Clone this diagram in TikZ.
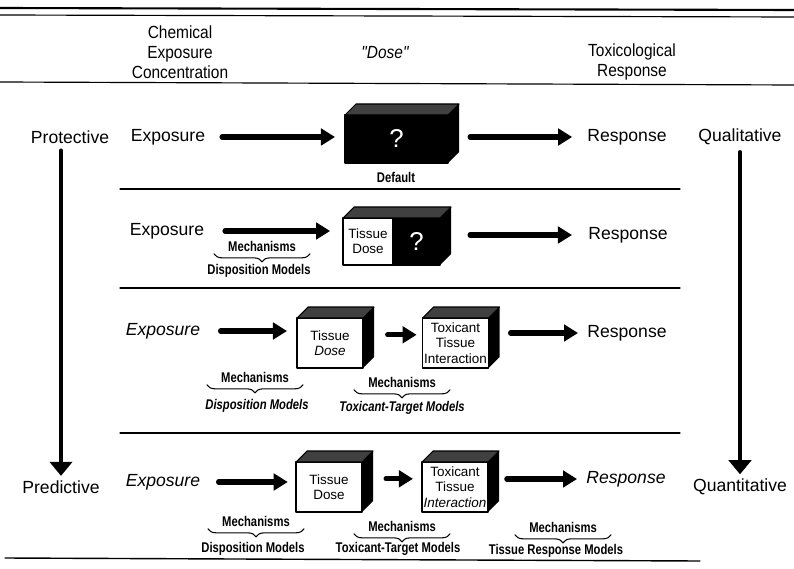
\documentclass[tikz,border=0pt]{standalone}
\usepackage{fontspec}
\setmainfont{Liberation Sans}
\newfontfamily\narrowfont[FakeStretch=0.8]{Liberation Sans}
\newfontfamily\hdrfont[FakeStretch=0.88]{Liberation Sans}
\usetikzlibrary{arrows.meta,decorations.pathreplacing}
\tikzset{
	lbl/.style={inner sep=2pt, outer sep=0pt, font=\fontsize{15}{18}\selectfont},
	lblit/.style={lbl, font=\fontsize{15}{18}\selectfont\itshape},
	hdr/.style={align=center, inner sep=2pt, font=\hdrfont\fontsize{15}{17}\selectfont},
	tiny/.style={inner sep=1pt, font=\narrowfont\fontsize{12}{14}\selectfont\bfseries},
	tinyit/.style={tiny, font=\narrowfont\fontsize{12}{14}\selectfont\bfseries\itshape},
	box/.style={draw, line width=0.9pt, fill=white, align=center, inner sep=1pt, outer sep=0pt,
		minimum width=1.98cm, minimum height=1.5cm, font=\fontsize{11.5}{13}\selectfont},
	blackbox/.style={box, fill=black, text=white, font=\fontsize{22}{24}\selectfont},
	fat/.style={line width=4.3pt, -{Triangle[length=12pt,width=14pt]}},
	down/.style={line width=3.4pt, -{Triangle[length=12pt,width=19pt]}},
	brc/.style={decorate, decoration={brace, mirror, amplitude=7pt}, line width=0.9pt}
}
\begin{document}
\begin{tikzpicture}[x=0.03cm, y=-0.03cm, line cap=round, line join=round]
	\useasboundingbox (0,0) rectangle (794,569);
	\draw[line width=1.8pt] (0,8) -- (794,10);
	\draw[line width=1pt] (0,15) -- (794,17);
	\draw[line width=1pt] (0,82) -- (794,85);
	\foreach \y in {189,288,433}
	\draw[line width=0.9pt] (120,\y) -- (680,\y);
	\draw[line width=1.2pt] (5,558) -- (700,561);

	\node[hdr] (chem) at (180,52) {Chemical\\Exposure\\Concentration};
	\node[hdr, font=\hdrfont\fontsize{15}{17}\selectfont\itshape] (dose) at (385,53) {"Dose"};
	\node[hdr] (tox) at (632,62) {Toxicological\\Response};

	\node[lbl] (prot) at (70,137) {Protective};
	\node[lbl] (pred) at (61,487) {Predictive};
	\node[lbl] (qual) at (740,137) {Qualitative};
	\node[lbl] (quant) at (740,487) {Quantitative};
	\draw[down, shorten <=4pt, shorten >=2pt] (prot.south -| pred.north) -- (pred.north);
	\draw[down, shorten <=4pt, shorten >=2pt] (qual.south) -- (quant.north);

	\node[lbl] (exp1) at (168,137) {Exposure};
	\node[blackbox, minimum width=3.09cm, minimum height=1.44cm] (dflt) at (396.5,139) {?};
	\node[tiny] (dfltlbl) at (396,177) {Default};
	\node[lbl] (resp1) at (627,137) {Response};

	\node[lbl] (exp2) at (167,231) {Exposure};
	\node[box, minimum width=1.5cm, minimum height=1.41cm] (mixL) at (368,241.5) {Tissue\\Dose};
	\node[blackbox, minimum width=1.41cm, minimum height=1.41cm, anchor=west] (mixR) at (mixL.east) {?};
	\node[lbl] (resp2) at (628,235) {Response};
	\node[tiny] (mech2) at (262,246) {Mechanisms};
	\node[tiny] (disp2) at (259,271) {Disposition Models};

	\node[lblit] (exp3) at (163,331) {Exposure};
	\node[box] (tdA) at (330,343) {Tissue\\\textit{Dose}};
	\node[box] (ttA) at (455.5,343) {Toxicant\\Tissue\\Interaction};
	\node[lbl] (resp3) at (627,333) {Response};
	\node[tiny] (mech3a) at (255,377) {Mechanisms};
	\node[tinyit] (disp3) at (257,406) {Disposition Models};
	\node[tiny] (mech3b) at (402,382) {Mechanisms};
	\node[tinyit] (tt3) at (402,408) {Toxicant-Target Models};

	\node[lblit] (exp4) at (163,482) {Exposure};
	\node[box] (tdB) at (329,487) {Tissue\\Dose};
	\node[box] (ttB) at (455,487) {Toxicant\\Tissue\\\textit{Interaction}};
	\node[lblit] (resp4) at (626,479) {Response};
	\node[tiny] (mech4a) at (256,521) {Mechanisms};
	\node[tiny] (disp4) at (253,549) {Disposition Models};
	\node[tiny] (mech4b) at (402,526) {Mechanisms};
	\node[tiny] (tt4) at (398,549) {Toxicant-Target Models};
	\node[tiny] (mech4c) at (563,527) {Mechanisms};
	\node[tiny] (tr4) at (556,551) {Tissue Response Models};

	\foreach \l/\r in {dflt/dflt, mixL/mixR, tdA/tdA, ttA/ttA, tdB/tdB, ttB/ttB}{
		\fill[black] (\r.north east) -- ++(11,-11) -- ([shift={(11,-11)}]\r.south east) -- (\r.south east) -- cycle;
		\filldraw[fill=black!75, line width=0.9pt] (\l.north west) -- ++(11,-11) -- ([shift={(11,-11)}]\r.north east) -- (\r.north east) -- cycle;
	}
	\foreach \m in {mech2, mech3a, mech3b, mech4a, mech4b, mech4c}
	\draw[brc] ([xshift=-11pt,yshift=-1pt]\m.south west) -- ([xshift=11pt,yshift=-1pt]\m.south east);

	\draw[fat, shorten <=12.4pt, shorten >=8.5pt] (exp1.east) -- (exp1 -| dflt.west);
	\draw[fat, shorten <=18.8pt, shorten >=11pt] (resp1 -| dflt.east) -- (resp1.west);
	\draw[fat, shorten <=15.8pt, shorten >=11pt] (exp2.east) -- (exp2 -| mixL.west);
	\draw[fat, shorten <=25.6pt, shorten >=12pt] (resp2 -| mixR.east) -- (resp2.west);
	\draw[fat, shorten <=15.4pt, shorten >=8.5pt] (exp3.east) -- (exp3 -| tdA.west);
	\draw[fat, shorten <=21pt, shorten >=5pt] ([yshift=7pt]tdA.east) -- ([yshift=7pt]ttA.west);
	\draw[fat, shorten <=18.8pt, shorten >=6pt] (resp3 -| ttA.east) -- (resp3.west);
	\draw[fat, shorten <=13.7pt, shorten >=7pt] (exp4.east) -- (exp4 -| tdB.west);
	\draw[fat, shorten <=20.5pt, shorten >=7.7pt] ([yshift=7pt]tdB.east) -- ([yshift=7pt]ttB.west);
	\draw[fat, shorten <=16pt, shorten >=6pt] (resp4 -| ttB.east) -- (resp4.west);
\end{tikzpicture}
\end{document}
